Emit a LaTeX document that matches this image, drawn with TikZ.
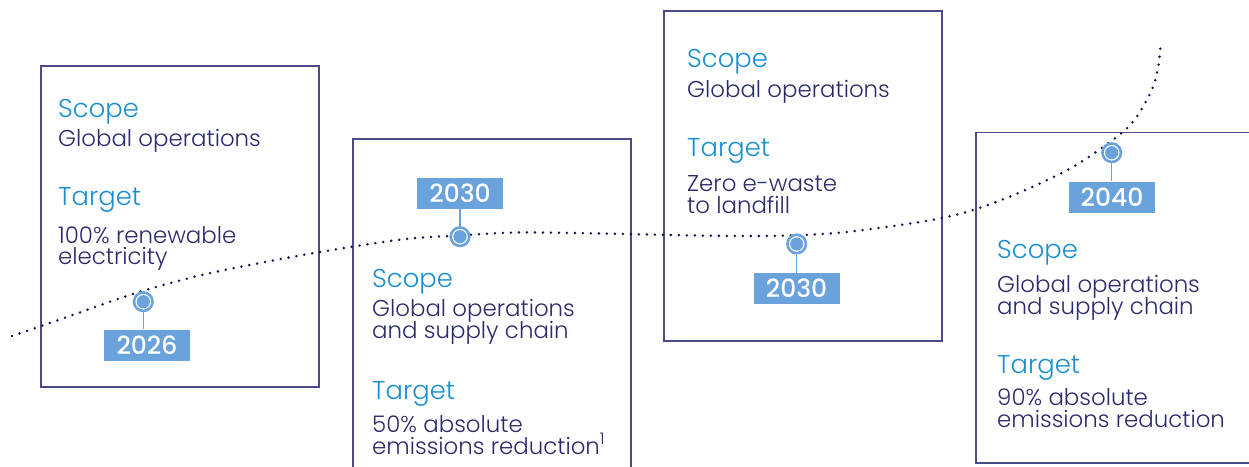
\documentclass[tikz,border=0pt]{standalone}
\usepackage{fontspec}
\setmainfont{Poppins}[UprightFont=* Light, BoldFont=* Medium]
\definecolor{framec}{HTML}{4A4A86}
\definecolor{headc}{HTML}{1A8FD0}
\definecolor{bodyc}{HTML}{2B2A6B}
\definecolor{yearc}{HTML}{6AA2DC}
\definecolor{dotc}{HTML}{15154F}
\begin{document}
\begin{tikzpicture}[x=1pt,y=-1pt,
  frame/.style={draw=framec, line width=1.4pt},
  head/.style={anchor=base west, inner sep=0, text=headc, font=\fontsize{25.8}{25.8}\selectfont},
  body/.style={anchor=base west, inner sep=0, text=bodyc, font=\fontsize{22.9}{22.9}\selectfont},
  yearbox/.style={fill=yearc, text=white, font=\fontsize{25}{25}\selectfont\bfseries,
    minimum width=86pt, minimum height=31pt, inner sep=0},
  ring/.style={circle, draw=yearc, line width=2.6pt, fill=white, minimum size=18.5pt, inner sep=0},
  stem/.style={draw=yearc, line width=1.2pt},
  trail/.style={draw=dotc, line width=2.8pt, line cap=round, dash pattern=on 0pt off 8pt},
]
\useasboundingbox (0,0) rectangle (1249,466);
\clip (0,0) rectangle (1249,466);

% target cards
\draw[frame] (41,66) rectangle (319,387);
\draw[frame] (353,139) rectangle (631,490);
\draw[frame] (664,11) rectangle (942,341);
\draw[frame] (976,132.5) rectangle (1270,463);

% dotted path
\draw[trail] plot[smooth, tension=0.55] coordinates {
  (12,336) (60,319.5) (115,300) (155,287.3) (203,274.7) (260,263) (320,252)
  (403,239.3) (460,235.5) (518,232.5) (600,233.5) (700,235.5) (781,235.7)
  (849,231.7) (942,218) (1000,200.5) (1066,170.7) (1109,142.7) (1133,121.7)
  (1151,91.7) (1158,67.7) (1161,41)};

% markers and year labels
\foreach \n/\mx/\my/\yx/\yy/\yr in {a/143.3/301.7/147/345/2026, b/460/236.7/460/193.5/2030,
    c/796.7/244/796.5/288.5/2030, d/1111.7/152.7/1112/197/2040} {
  \node[ring] (m\n) at (\mx,\my) {};
  \fill[yearc] (m\n.center) circle (6.6);
  \node[yearbox] (y\n) at (\yx,\yy) {\yr};
}
\draw[stem] (ma.south) -- (ma.south |- ya.north);
\draw[stem] (mb.north) -- (mb.north |- yb.south);
\draw[stem] (mc.south) -- (mc.south |- yc.north);
\draw[stem] (md.south) -- (md.south |- yd.north);

% card 1
\node[head] (h1a) at (58,117) {Scope};
\node[body] (b1a) at (58,146) {Global operations};
\node[head] (h1b) at (58,205) {Target};
\node[body] (b1b) at (58,243) {100\% renewable};
\node[body] (b1c) at (58,264) {electricity};

% card 2
\node[head] (h2a) at (372,287) {Scope};
\node[body] (b2a) at (372,316) {Global operations};
\node[body] (b2b) at (372,338) {and supply chain};
\node[head] (h2b) at (372,399) {Target};
\node[body] (b2c) at (372,432) {50\% absolute};
\node[body] (b2d) at (372,454) {emissions reduction\textsuperscript{1}};

% card 3
\node[head] (h3a) at (687,67) {Scope};
\node[body] (b3a) at (687,97) {Global operations};
\node[head] (h3b) at (687,156) {Target};
\node[body] (b3b) at (687,191) {Zero e-waste};
\node[body] (b3c) at (687,213) {to landfill};

% card 4
\node[head] (h4a) at (997,258) {Scope};
\node[body] (b4a) at (997,292) {Global operations};
\node[body] (b4b) at (997,314) {and supply chain};
\node[head] (h4b) at (997,373) {Target};
\node[body] (b4c) at (997,405) {90\% absolute};
\node[body] (b4d) at (997,427) {emissions reduction};
\end{tikzpicture}
\end{document}
